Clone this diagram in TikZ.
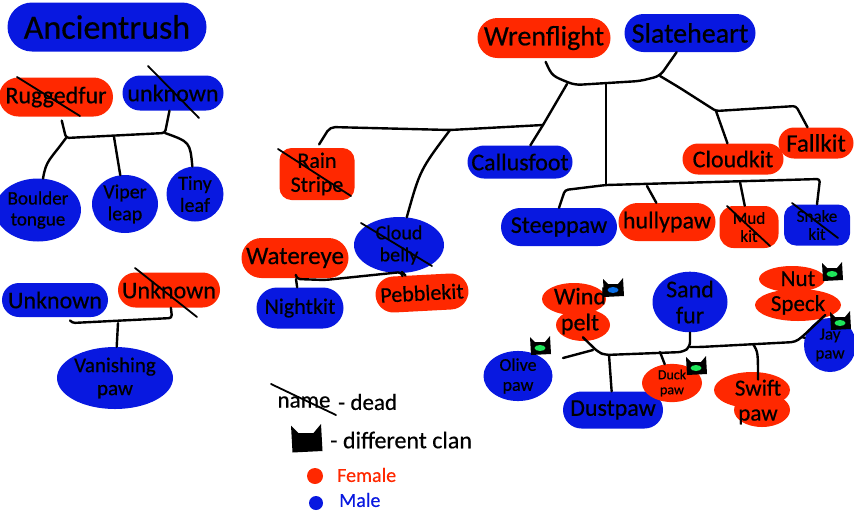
\documentclass[tikz,border=0pt]{standalone}
\usepackage{fontspec}
\setmainfont{Carlito}[FakeBold=0.5]
\usetikzlibrary{shapes.geometric,shapes.misc}
\definecolor{femalered}{RGB}{255,40,0}
\definecolor{maleblue}{RGB}{8,24,224}
\definecolor{eyegreen}{RGB}{30,230,90}
\definecolor{eyeblue}{RGB}{10,110,230}
\tikzset{
    size/.style={font=\fontsize{#1}{#1}\selectfont},
    pill/.style={rounded rectangle, inner sep=0pt, align=center},
    round/.style={ellipse, inner sep=0pt, align=center},
    female/.style={fill=femalered},
    male/.style={fill=maleblue},
    dims/.style args={#1x#2}{minimum width=#1pt, minimum height=#2pt},
    link/.style={draw, line width=2.4pt, line cap=round, line join=round},
    strike/.style={draw, line width=1.8pt, line cap=round},
    pics/clanmark/.style={code={
        \fill[black] (-10,-9) -- (-5,-4) -- (5,-4) -- (10,-10) -- (11,8) -- (-9,9) -- cycle;
        \fill[#1] (0,2) ellipse [x radius=5.5, y radius=3];
    }}
}
\begin{document}
\begin{tikzpicture}[x=1pt, y=-1pt]
    \useasboundingbox (0,0) rectangle (854,512);

    % lobes behind the two-part names
    \fill[femalered] (574,299) ellipse [x radius=32, y radius=16];
    \fill[femalered] (583,325) ellipse [x radius=27, y radius=16];
    \fill[femalered] (792,279) ellipse [x radius=33, y radius=13];
    \fill[femalered] (798,305) ellipse [x radius=43, y radius=16];
    \fill[femalered] (752,390) ellipse [x radius=38, y radius=18];
    \fill[femalered] (762,410) ellipse [x radius=28, y radius=17];

    % old line
    \node [pill, male, dims=199x49, size=34] (ancient) at (107,27) {Ancientrush};
    \node [pill, female, dims=114x39, size=24] (rugged) at (56,97) {Ruggedfur};
    \node [pill, male, dims=101x35, size=24] (unknownb) at (173,93) {unknown};
    \node [round, male, dims=76x63, size=19] (boulder) at (38,210) {Boulder\\[2pt]tongue};
    \node [round, male, dims=66x58, size=20] (viper) at (125,204) {Viper\\[2pt]leap};
    \node [round, male, dims=57x55, size=20] (tiny) at (195,194) {Tiny\\[2pt]leaf};
    \node [pill, male, dims=106x34, size=24] (unknownc) at (55,300) {Unknown};
    \node [pill, female, dims=102x35, size=24] (unknownd) at (169,290) {Unknown};
    \node [round, male, dims=116x62, size=21] (vanishing) at (115,378) {Vanishing\\[2pt]paw};

    % middle
    \node [rectangle, rounded corners=12pt, female, dims=75x52, size=22, inner sep=0pt, align=center] (rain) at (317,174) {Rain\\[2pt]Stripe};
    \node [round, male, dims=90x56, size=20] (belly) at (399,245) {Cloud\\[2pt]belly};
    \node [pill, female, dims=107x40, size=25] (water) at (295,258) {Watereye};
    \node [pill, male, dims=87x41, size=22] (night) at (300,308) {Nightkit};
    \node [pill, female, dims=93x36, size=22, rotate=3] (pebble) at (422,293) {Pebblekit};

    % right
    \node [pill, female, dims=133x40, size=28] (wren) at (544,38) {Wrenflight};
    \node [pill, male, dims=131x38, size=28] (slate) at (690,33) {Slateheart};
    \node [pill, male, dims=105x33, size=24] (callus) at (520,162) {Callusfoot};
    \node [pill, female, dims=101x31, size=24] (cloud) at (733,159) {Cloudkit};
    \node [pill, female, dims=75x31, size=25] (fall) at (816,143) {Fallkit};
    \node [pill, male, dims=116x38, size=24] (steep) at (559,227) {Steeppaw};
    \node [pill, female, dims=97x38, size=24] (hully) at (667,222) {hullypaw};
    \node [rectangle, rounded corners=14pt, female, dims=59x42, size=17, inner sep=0pt, align=center] (mud) at (749,227) {Mud\\[1pt]kit};
    \node [rectangle, rounded corners=12pt, male, dims=66x41, size=17, inner sep=0pt, align=center] (snake) at (817,225) {Snake\\[1pt]kit};

    % lower right
    \node [align=center, inner sep=0pt, size=24] (wind) at (580,311) {Wind\\[2pt]pelt};
    \node [round, male, dims=75x60, size=24] (sand) at (690,302) {Sand\\[2pt]fur};
    \node [align=center, inner sep=0pt, size=23] (nut) at (798,293) {Nut\\[2pt]Speck};
    \node [round, male, dims=52x54, size=17] (jay) at (830,345) {Jay\\[2pt]paw};
    \node [round, male, dims=69x48, size=18] (olive) at (518,376) {Olive\\[2pt]paw};
    \node [pill, male, dims=100x37, size=24] (dust) at (613,410) {Dustpaw};
    \node [round, female, dims=60x35, size=14] (duck) at (672,383) {Duck\\[1pt]paw};
    \node [align=center, inner sep=0pt, size=23] (swift) at (758,402) {Swift\\[2pt]paw};

    \pic at (613,288) {clanmark=eyeblue};
    \pic at (832,272) {clanmark=eyegreen};
    \pic at (840,321) {clanmark=eyegreen};
    \pic at (540,346) {clanmark=eyegreen};
    \pic at (696,366) {clanmark=eyegreen};

    % joints
    \coordinate (barb) at (66,138);
    \coordinate (bare) at (165,133);
    \coordinate (barm) at (114,137);
    \coordinate (barv) at (118,323);
    \coordinate (barw) at (72,323);
    \coordinate (barx) at (172,318);
    \coordinate (join) at (450,130);
    \coordinate (rainend) at (543,125);
    \coordinate (wrenl) at (575,85);
    \coordinate (wrenr) at (660,76);
    \coordinate (wrenc) at (606,84);
    \coordinate (wrenk) at (567,84);
    \coordinate (litter) at (606,185);
    \coordinate (litterb) at (647,186);
    \coordinate (litterc) at (740,182);
    \coordinate (kits) at (716,111);
    \coordinate (waterl) at (296,279);
    \coordinate (waterr) at (402,272);
    \coordinate (windb) at (605,355);
    \coordinate (windc) at (690,347);
    \coordinate (windd) at (660,352);
    \coordinate (winde) at (609,355);
    \coordinate (windf) at (753,344);
    \coordinate (windg) at (563,358);
    \coordinate (windh) at (593,350);
    \coordinate (windi) at (802,337);

    % old line links
    \draw [link, shorten <=4pt, rounded corners=3pt] (rugged) -- (barb) -- (bare) -- (unknownb);
    \draw [link] (barb) .. controls (50,160) and (46,160) .. (boulder);
    \draw [link] (barm) -- (viper);
    \draw [link] (bare) .. controls (190,142) .. (tiny);
    \draw [link, shorten <=4pt, rounded corners=3pt] (unknownc) -- (barw) -- (barx) -- (unknownd);
    \draw [link] (barv) -- (vanishing);

    % middle links
    \draw [link, shorten <=4pt, rounded corners=5pt] (rain.north) -- (330,127) -- (join) -- (rainend);
    \draw [link] (join) .. controls (420,170) .. (belly);
    \draw [link, shorten <=3pt, rounded corners=4pt] (water) -- (waterl) -- (325,280) -- (waterr) -- (belly);
    \draw [link] (waterl) -- (night);
    \draw [link] (waterr) -- (pebble);

    % right links
    \draw [link, shorten <=4pt, rounded corners=6pt] (wren.south) .. controls (552,76) .. (wrenl) -- (640,81) -- (wrenr) -- (slate);
    \draw [link] (wrenk) -- (rainend) -- (callus);
    \draw [link] (wrenc) -- (litter);
    \draw [link, rounded corners=3pt] (wrenr) -- (680,88) -- (kits) -- (796,106) -- (fall);
    \draw [link] (kits) -- (cloud);
    \draw [link, rounded corners=3pt] (steep.north) -- (565,190) -- (litter) -- (820,179) -- (snake.north);
    \draw [link] (litterb) -- (hully);
    \draw [link] (litterc) -- (mud);

    % lower right links
    \draw [link] (windg) -- (windh);
    \draw [link, shorten <=4pt, rounded corners=5pt] (wind.south) -- (598,352) -- (windb) -- (683,352) -- (windc) -- (sand);
    \draw [link, rounded corners=4pt] (windc) -- (700,347) -- (795,342) -- (windi) -- (nut.south east);
    \draw [link] (windi) -- (jay);
    \draw [link] (winde) -- (dust);
    \draw [link] (windd) -- (duck);
    \draw [link] (windf) .. controls (758,352) .. (swift);

    % the dead
    \draw [strike] (17,77) -- (80,116);
    \draw [strike] (148,66) -- (199,118);
    \draw [strike] (135,268) -- (197,317);
    \draw [strike] (278,149) -- (351,196);
    \draw [strike] (361,223) -- (432,266);
    \draw [strike] (727,206) -- (770,246);
    \draw [strike] (792,203) -- (838,238);

    % key
    \node [inner sep=0pt, size=23] (keyname) at (304,402) {name};
    \draw [strike] (271,384) -- (336,415);
    \node [inner sep=0pt, anchor=west, size=23] (keydead) at (338,402) {- dead};
    \pic at (306,439) [scale=1.5] {clanmark=black};
    \node [inner sep=0pt, anchor=west, size=24] (keyclan) at (330,440) {- different clan};
    \node [circle, female, minimum size=16pt, inner sep=0pt] (keyred) at (315,476) {};
    \node [inner sep=0pt, anchor=west, size=20, text=femalered] (keyfemale) at (337,475) {Female};
    \node [circle, male, minimum size=14pt, inner sep=0pt] (keyblue) at (316,503) {};
    \node [inner sep=0pt, anchor=west, size=20, text=maleblue] (keymale) at (339,500) {Male};
\end{tikzpicture}
\end{document}
